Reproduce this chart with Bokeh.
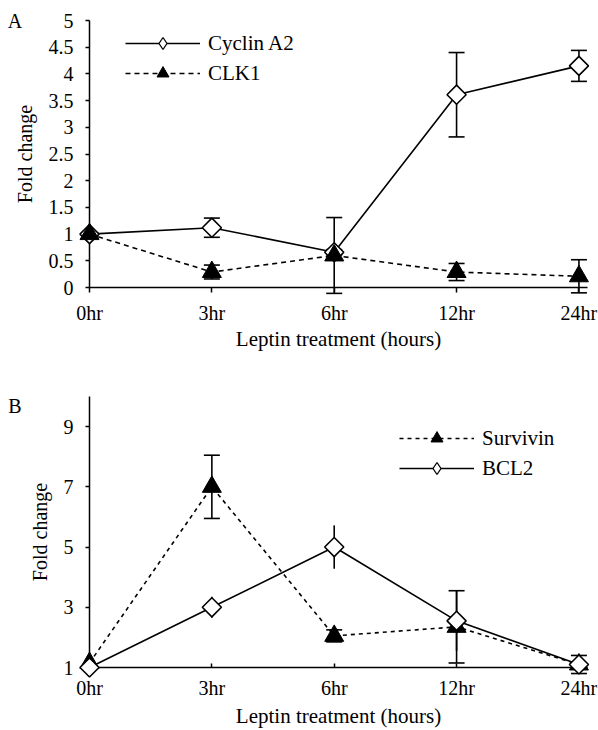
import math
from bokeh.plotting import figure
from bokeh.models import Range1d, FixedTicker, Legend, LegendItem
from bokeh.layouts import column
from bokeh.embed import file_html
from bokeh.resources import INLINE
from bokeh.core.properties import value

# ---------------- data ----------------
hours = ["0hr", "3hr", "6hr", "12hr", "24hr"]
pos = [0, 1, 2, 3, 4]

cyclin_a2 = [1.0, 1.12, 0.66, 3.61, 4.15]
cyclin_a2_err = [0.0, 0.18, 0.05, 0.79, 0.29]
clk1 = [1.0, 0.29, 0.60, 0.29, 0.21]
clk1_err = [0.0, 0.13, 0.71, 0.16, 0.31]

survivin = [1.15, 7.0, 2.05, 2.35, 1.1]
survivin_err = [0.0, 1.05, 0.2, 1.2, 0.3]
bcl2 = [1.0, 3.0, 5.0, 2.55, 1.1]
bcl2_err = [0.0, 0.35, 0.72, 1.0, 0.1]

yticks_a = [0, 0.5, 1, 1.5, 2, 2.5, 3, 3.5, 4, 4.5, 5]
ytick_labels_a = ["0", "0.5", "1", "1.5", "2", "2.5", "3", "3.5", "4", "4.5", "5"]
yticks_b = [1, 3, 5, 7, 9]
ytick_labels_b = ["1", "3", "5", "7", "9"]

panel_a_tag = ["A"]
panel_b_tag = ["B"]

FONT = "Liberation Serif"
FS_TICK = "20px"
FS_YLAB = "20px"
FS_XLAB = "21px"
FS_LEG = "21px"
LW = 1.6


def make_fig(height, top, bottom, ymin, ymax, yticks, ylabels, tick_in, tick_out, std, lstd):
    p = figure(width=598, height=height, output_backend="svg", toolbar_location=None,
               x_range=Range1d(0, 4.07), y_range=Range1d(ymin, ymax),
               min_border_left=89, min_border_right=11,
               min_border_top=top, min_border_bottom=bottom)
    p.grid.visible = False
    p.outline_line_color = None
    p.background_fill_color = "white"
    p.border_fill_color = "white"
    p.xaxis.ticker = FixedTicker(ticks=pos)
    p.xaxis.major_label_overrides = {k: v for k, v in zip(pos, hours)}
    p.yaxis.ticker = FixedTicker(ticks=yticks)
    p.yaxis.major_label_overrides = {k: v for k, v in zip(yticks, ylabels)}
    for ax in (p.xaxis, p.yaxis):
        ax.axis_line_color = "black"
        ax.axis_line_width = 1.5
        ax.major_tick_line_color = "black"
        ax.major_tick_line_width = 1.5
        ax.minor_tick_line_color = None
        ax.major_label_text_font = FONT
        ax.major_label_text_font_size = FS_TICK
        ax.major_label_text_color = "black"
        ax.axis_label_text_font = FONT
        ax.axis_label_text_font_style = "normal"
        ax.axis_label_text_color = "black"
    p.xaxis.axis_label_text_font_size = FS_XLAB
    p.yaxis.axis_label_text_font_size = FS_YLAB
    p.xaxis.major_tick_in = tick_in
    p.xaxis.major_tick_out = tick_out
    p.xaxis.major_label_standoff = std
    p.xaxis.axis_label_standoff = lstd
    p.yaxis.major_tick_in = 0
    p.yaxis.major_tick_out = 4
    p.yaxis.major_label_standoff = 12
    p.yaxis.axis_label_standoff = 10
    p.xaxis.axis_label = "Leptin treatment (hours)"
    p.yaxis.axis_label = "Fold change"
    return p


def errorbars(p, vals, errs, caps=True):
    xs = [x for x, e in zip(pos, errs) if e > 0]
    lo = [v - e for v, e in zip(vals, errs) if e > 0]
    hi = [v + e for v, e in zip(vals, errs) if e > 0]
    p.segment(x0=xs, y0=lo, x1=xs, y1=hi, line_color="black", line_width=LW, level="overlay")
    if caps:
        p.scatter(x=xs + xs, y=lo + hi, marker="dash", size=16, line_color="black",
                  line_width=LW, level="overlay")


def diamond_markers(p, vals):
    # small diamond (used for the legend glyph), fully covered by the rotated square
    leg = p.scatter(pos, vals, marker="diamond", size=10, fill_color="white",
                    line_color="black", line_width=1.3, level="overlay")
    p.scatter(pos, vals, marker="square", angle=math.pi / 4, size=13.5,
              fill_color="white", line_color="black", line_width=LW, level="overlay")
    return leg


def triangle_markers(p, vals):
    return p.scatter(pos, vals, marker="triangle", size=19, fill_color="black",
                     line_color="black", line_width=1, level="overlay")


def style_legend(lg):
    lg.border_line_color = None
    lg.background_fill_alpha = 0
    lg.margin = 0
    lg.padding = 0
    lg.spacing = 0
    lg.glyph_width = 75
    lg.glyph_height = 30
    lg.label_standoff = 8
    lg.label_height = 30
    lg.label_text_font = FONT
    lg.label_text_font_size = FS_LEG
    lg.label_text_color = "black"


# ---------------- panel A ----------------
pa = make_fig(365, 20, 78, 0, 5, yticks_a, ytick_labels_a, 0, 5, 9, 0)
la_cyc = pa.line(pos, cyclin_a2, line_color="black", line_width=LW, level="overlay")
la_clk = pa.line(pos, clk1, line_color="black", line_width=LW, line_dash="5 4", level="overlay")
errorbars(pa, cyclin_a2, cyclin_a2_err)
errorbars(pa, clk1, clk1_err)
ma_cyc = diamond_markers(pa, cyclin_a2)
ma_clk = triangle_markers(pa, clk1)
leg_a = Legend(items=[LegendItem(label="Cyclin A2", renderers=[la_cyc, ma_cyc]),
                      LegendItem(label="CLK1", renderers=[la_clk, ma_clk])],
               location=(36, 199), orientation="vertical")
style_legend(leg_a)
pa.add_layout(leg_a)
pa.text(x=[-0.61], y=[5.0], text=panel_a_tag, text_font=value(FONT), text_font_size=FS_TICK,
        text_align="center", text_baseline="middle", text_color="black", level="overlay")

# ---------------- panel B ----------------
pb = make_fig(365, 31, 60, 1, 10, yticks_b, ytick_labels_b, 4, 0, 9, 2)
lb_sur = pb.line(pos, survivin, line_color="black", line_width=LW, line_dash="4 4", level="overlay")
lb_bcl = pb.line(pos, bcl2, line_color="black", line_width=LW, level="overlay")
errorbars(pb, survivin, survivin_err)
errorbars(pb, bcl2, bcl2_err, caps=False)
mb_sur = triangle_markers(pb, survivin)
mb_bcl = diamond_markers(pb, bcl2)
leg_b = Legend(items=[LegendItem(label="Survivin", renderers=[lb_sur, mb_sur]),
                      LegendItem(label="BCL2", renderers=[lb_bcl, mb_bcl])],
               location=(310, 184), orientation="vertical")
style_legend(leg_b)
pb.add_layout(leg_b)
pb.text(x=[-0.61], y=[9.67], text=panel_b_tag, text_font=value(FONT), text_font_size=FS_TICK,
        text_align="center", text_baseline="middle", text_color="black", level="overlay")

layout = column(pa, pb, spacing=0)
open("out.html", "w").write(file_html(layout, INLINE))
